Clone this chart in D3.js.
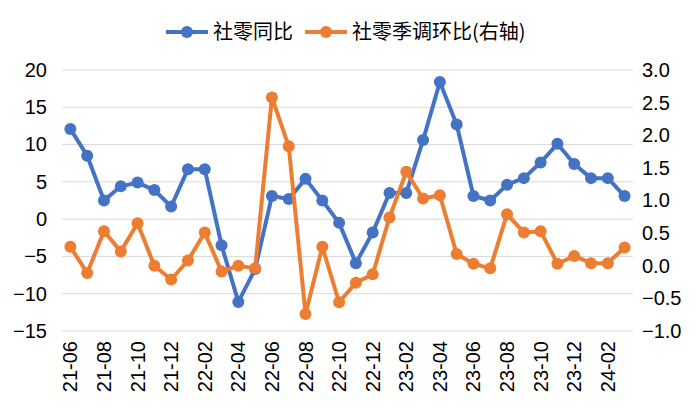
<!DOCTYPE html>
<html>
<head>
<meta charset="utf-8">
<script src="https://cdn.jsdelivr.net/npm/d3@7"></script>
<style>
  body { margin: 0; background: #fff; }
  svg { font-family: "Liberation Sans", Arial, sans-serif; }
</style>
</head>
<body>
<svg id="chart" width="700" height="420"></svg>
<script>
// months 21-06 .. 24-03
const months = ["21-06","21-07","21-08","21-09","21-10","21-11","21-12",
  "22-01","22-02","22-03","22-04","22-05","22-06","22-07","22-08","22-09","22-10","22-11","22-12",
  "23-01","23-02","23-03","23-04","23-05","23-06","23-07","23-08","23-09","23-10","23-11","23-12",
  "24-01","24-02","24-03"];

// 社零同比 (left axis)
const yoy = [12.1, 8.5, 2.5, 4.4, 4.9, 3.9, 1.7, 6.7, 6.7, -3.5, -11.1, -6.7,
  3.1, 2.7, 5.4, 2.5, -0.5, -5.9, -1.8, 3.5, 3.5, 10.6, 18.4, 12.7,
  3.1, 2.5, 4.6, 5.5, 7.6, 10.1, 7.4, 5.5, 5.5, 3.1];

// 社零季调环比 (right axis)
const mom = [0.29, -0.11, 0.53, 0.22, 0.65, 0.0, -0.21, 0.08, 0.51, -0.09, 0.0, -0.04,
  2.58, 1.83, -0.74, 0.29, -0.56, -0.26, -0.13, 0.74, 1.44, 1.03, 1.08, 0.18,
  0.03, -0.04, 0.79, 0.51, 0.53, 0.03, 0.15, 0.04, 0.04, 0.28];

const leftTicks = [20, 15, 10, 5, 0, -5, -10, -15];
const rightTicks = [3.0, 2.5, 2.0, 1.5, 1.0, 0.5, 0.0, -0.5, -1.0];
const xTickLabels = months.filter((m, i) => i % 2 === 0 && i < 33);

const legendNames = ["社零同比", "社零季调环比(右轴)"];
const colors = ["#4472C4", "#ED7D31"];

const svg = d3.select("#chart");
const plotL = 62, plotR = 633, plotT = 70, plotB = 331;

const x = d3.scaleBand().domain(months).range([plotL, plotR]).padding(0);
const yL = d3.scaleLinear().domain([-15, 20]).range([plotB, plotT]);
const yR = d3.scaleLinear().domain([-1, 3]).range([plotB, plotT]);

// gridlines
svg.append("g").selectAll("line")
  .data(leftTicks)
  .join("line")
    .attr("x1", plotL).attr("x2", plotR)
    .attr("y1", d => yL(d)).attr("y2", d => yL(d))
    .attr("stroke", "#d9d9d9").attr("stroke-width", 1);

// left axis
const axL = svg.append("g")
  .attr("transform", "translate(" + 47 + ",0)")
  .call(d3.axisLeft(yL).tickValues(leftTicks).tickSize(0).tickPadding(0));
axL.select(".domain").remove();
axL.selectAll("text").attr("font-size", 20).attr("fill", "#000")
  .attr("font-family", "Liberation Sans, Arial, sans-serif");

// right axis
const axR = svg.append("g")
  .attr("transform", "translate(" + 642 + ",0)")
  .call(d3.axisRight(yR).tickValues(rightTicks).tickFormat(d3.format(".1f")).tickSize(0).tickPadding(0));
axR.select(".domain").remove();
axR.selectAll("text").attr("font-size", 20).attr("fill", "#000")
  .attr("font-family", "Liberation Sans, Arial, sans-serif");

// x labels
svg.append("g").selectAll("text")
  .data(xTickLabels)
  .join("text")
    .attr("transform", d => "translate(" + (x(d) + x.bandwidth() / 2) + "," + 341 + ") rotate(-90)")
    .attr("text-anchor", "end")
    .attr("dy", "0.35em")
    .attr("font-size", 20)
    .attr("fill", "#000")
    .text(d => d);

// series
const series = [
  { vals: yoy, y: yL, color: colors[0] },
  { vals: mom, y: yR, color: colors[1] }
];

series.forEach(s => {
  const line = d3.line()
    .x((d, i) => x(months[i]) + x.bandwidth() / 2)
    .y(d => s.y(d));
  const g = svg.append("g");
  g.append("path")
    .datum(s.vals)
    .attr("fill", "none")
    .attr("stroke", s.color)
    .attr("stroke-width", 4)
    .attr("stroke-linejoin", "round")
    .attr("d", line);
  g.selectAll("circle")
    .data(s.vals)
    .join("circle")
      .attr("cx", (d, i) => x(months[i]) + x.bandwidth() / 2)
      .attr("cy", d => s.y(d))
      .attr("r", 6)
      .attr("fill", s.color);
});

// legend
const legend = svg.append("g").attr("transform", "translate(0,32)");
const legX = [166, 305];
legendNames.forEach((name, i) => {
  const lg = legend.append("g").attr("transform", "translate(" + legX[i] + ",0)");
  lg.append("line").attr("x1", 0).attr("x2", 42).attr("y1", 0).attr("y2", 0)
    .attr("stroke", colors[i]).attr("stroke-width", 4);
  lg.append("circle").attr("cx", 21).attr("cy", 0).attr("r", 6).attr("fill", colors[i]);
  lg.append("text").attr("x", 47).attr("dy", "0.35em")
    .attr("font-size", 20)
    .attr("font-family", "Noto Sans CJK SC, sans-serif")
    .attr("fill", "#000")
    .text(name);
});
</script>
</body>
</html>
